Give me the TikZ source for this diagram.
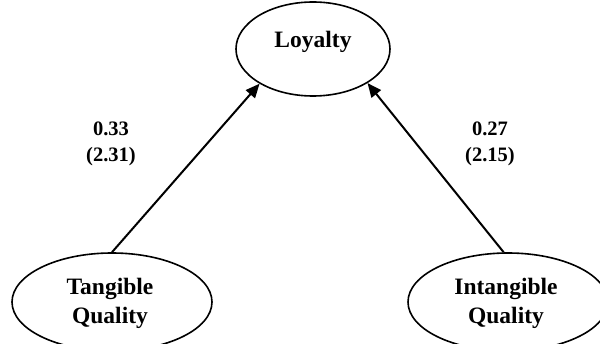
\documentclass[tikz,border=0pt]{standalone}
\usepackage{fontspec}
\setmainfont{Liberation Serif}
\usetikzlibrary{shapes.geometric,arrows.meta,calc}
\begin{document}
\begin{tikzpicture}[x=1pt,y=1pt,
  latent/.style={draw=black,line width=1.6pt,ellipse,inner sep=0pt},
  nodetext/.style={font=\fontsize{23.5}{29}\selectfont\bfseries,align=center,inner sep=0pt},
  coef/.style={font=\fontsize{20.5}{26}\selectfont\bfseries,align=center,inner sep=0pt},
  path/.style={line width=2pt,-{Triangle[length=14pt,width=12pt]}}]
\useasboundingbox (0,0) rectangle (600,343);
\node[latent,minimum width=154pt,minimum height=94pt] (L) at (313,294) {};
\node[nodetext] (Ltxt) at (313,301) {Loyalty};
\node[latent,minimum width=200pt,minimum height=98pt] (T) at (112,41) {};
\node[nodetext] (Ttxt) at (110,40) {Tangible\\Quality};
\node[latent,minimum width=200pt,minimum height=98pt] (I) at (508,41) {};
\node[nodetext] (Itxt) at (506,40) {Intangible\\Quality};
\draw[path] (T.north) -- (L.213);
\draw[path] (I.95) -- (L.328);
\node[coef] (c1) at (111,199) {0.33\\(2.31)};
\node[coef] (c2) at (490,199) {0.27\\(2.15)};
\end{tikzpicture}
\end{document}
